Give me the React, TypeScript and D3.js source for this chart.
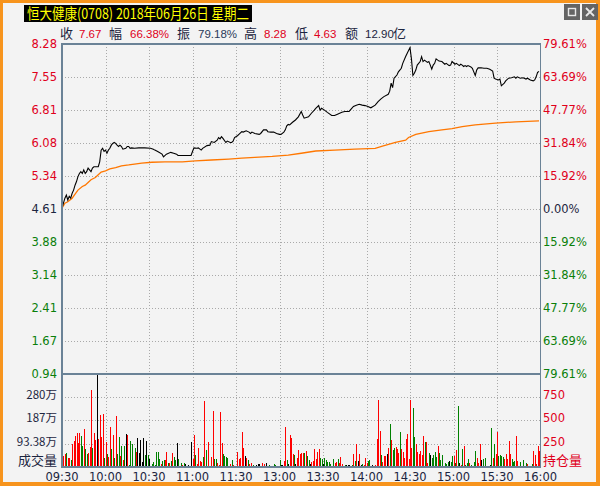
import * as d3 from "d3"

// price ticks (left) and change ticks (right)
const priceTicks = [8.28, 7.55, 6.81, 6.08, 5.34, 4.61, 3.88, 3.14, 2.41, 1.67, 0.94]
const pctTicks = ["79.61%", "63.69%", "47.77%", "31.84%", "15.92%", "0.00%", "15.92%", "31.84%", "47.77%", "63.69%", "79.61%"]
const preClose = 4.61

const timeLabels = ["09:30", "10:00", "10:30", "11:00", "11:30", "13:00", "13:30", "14:00", "14:30", "15:00", "15:30", "16:00"]

const volTicks = [93.38, 187, 280]
const volTickLabels = ["93.38万", "187万", "280万"]
const holdTickLabels = ["250", "500", "750"]

// minute-by-minute volume (万), morning 150 bars, afternoon 180 bars
const morningVol = [
  72, 44, 52, 58, 36, 36, 28, 92, 104, 125,
  137, 96, 137, 125, 84, 153, 72, 52, 56, 80,
  310, 76, 137, 108, 370, 112, 209, 120, 213, 36,
  100, 52, 40, 161, 72, 129, 36, 205, 52, 120,
  44, 84, 28, 84, 133, 129, 8, 104, 92, 4,
  76, 60, 117, 56, 108, 20, 117, 48, 104, 48,
  32, 4, 12, 20, 8, 60, 60, 32, 12, 24,
  28, 28, 60, 16, 16, 24, 56, 40, 28, 96,
  32, 4, 16, 8, 16, 12, 4, 8, 4, 100,
  32, 129, 48, 12, 76, 24, 20, 40, 265, 68,
  4, 100, 4, 40, 225, 32, 32, 16, 8, 221,
  96, 52, 44, 40, 36, 4, 12, 28, 8, 4,
  0, 60, 32, 36, 141, 76, 44, 36, 28, 12,
  16, 4, 8, 4, 8, 12, 12, 4, 16, 12,
  4, 16, 4, 8, 4, 4, 12, 8, 4, 4,
]
const morningDir =
  "rrrgrrgrrr" + "rrrggrggrr" + "rgrrkrrrrg" + "rgrrgrgrgg" + "rgrgkrgggk" +
  "grkkkkkgkg" + "krggggggrg" + "grrgrgrggk" + "gggrgkrkrk" + "rrgrrrrgrg" +
  "rrrrrggrrr" + "rggggkrgrr" + "rrrrrrkrgr" + "rrgkkkkgrr" + "rkggrkggrg"

const afternoonVol = [
  28, 8, 8, 24, 161, 28, 12, 129, 117, 52,
  48, 12, 36, 68, 52, 56, 56, 56, 64, 44,
  28, 12, 20, 24, 72, 32, 60, 72, 36, 32,
  12, 36, 28, 20, 20, 12, 4, 32, 16, 20,
  32, 16, 40, 12, 4, 8, 8, 8, 8, 4,
  8, 52, 24, 92, 24, 52, 8, 12, 8, 36,
  16, 24, 28, 4, 8, 4, 8, 112, 269, 145,
  48, 20, 44, 44, 52, 76, 173, 108, 68, 76,
  80, 72, 56, 141, 72, 60, 36, 112, 133, 32,
  269, 76, 237, 120, 92, 60, 52, 64, 48, 125,
  100, 100, 16, 56, 48, 36, 48, 60, 40, 84,
  56, 28, 48, 4, 16, 12, 20, 24, 20, 44,
  44, 16, 68, 245, 16, 8, 72, 84, 8, 16,
  32, 16, 8, 4, 20, 64, 36, 16, 92, 28,
  32, 4, 36, 4, 4, 8, 157, 36, 92, 52,
  141, 44, 48, 44, 40, 32, 52, 32, 104, 52,
  32, 20, 24, 125, 24, 4, 20, 4, 28, 4,
  16, 12, 4, 4, 12, 64, 48, 12, 84, 64,
]
const afternoonDir =
  "gkkrrgkrrr" + "gkrrrrrgrg" + "gkrrrrrrgg" + "kgggggkgrr" + "grrrrgkkkr" +
  "grgrkrkgrr" + "rggrkrrrrr" + "gr" +
  "rrkrgrggrr" + "rgrrrrrrrr" + "ggrrrrrrgr" + "rgkggggrgg" + "gggggkggrg" +
  "rgkrgrgggr" + "grggrrrkgr" + "gkrkgrgrrg" + "gggrrrrrgg" + "grrrgrgkgr" + "grgrrrrr"

// price line, sampled at minute index
const priceMinutes = [
  0, 1, 2, 3, 4, 5, 6, 7, 8, 9, 10, 11, 12, 13, 14, 15, 16, 17, 18, 19, 20, 21, 22, 24, 25,
  26, 27, 28, 29, 30, 31, 32, 33, 34, 35, 36, 37, 38, 39, 40, 41, 42, 44, 45, 46, 47, 48, 50,
  53, 55, 57, 61, 63, 64, 66, 69, 70, 72, 75, 77, 79, 80, 85, 89, 90, 91, 93, 94, 96, 97,
  100, 102, 103, 105, 107, 108, 109, 110, 111, 113, 114, 116, 117, 118, 119, 121, 122, 124,
  125, 127, 129, 130, 131, 133, 136, 137, 139, 141, 142, 144, 146, 148, 150, 151, 153, 154,
  155, 156, 157, 159, 161, 163, 165, 166, 167, 170, 172, 174, 175, 177, 178, 179, 181, 183,
  186, 188, 190, 193, 195, 198, 201, 203, 205, 207, 209, 211, 213, 216, 218, 220, 222, 225,
  226, 227, 228, 229, 231, 232, 234, 235, 237, 238, 240, 241, 242, 243, 244, 245, 247, 248,
  249, 250, 252, 253, 254, 255, 256, 257, 258, 260, 262, 264, 265, 267, 268, 269, 271, 272,
  274, 275, 276, 277, 278, 279, 280, 282, 283, 284, 285, 286, 287, 289, 291, 293, 295, 297,
  298, 299, 301, 302, 303, 305, 306, 308, 310, 312, 313, 314, 316, 318, 320, 321, 323, 325,
  326, 327, 328, 329,
]
const prices = [
  4.63, 4.74, 4.85, 4.92, 4.81, 4.89, 4.85, 4.96, 5.03, 5.14, 5.22, 5.33, 5.4, 5.44, 5.4, 5.48, 5.4, 5.44, 5.52, 5.48, 5.44, 5.52, 5.55, 5.55, 5.55,
  5.66, 5.92, 5.96, 5.89, 5.92, 5.85, 5.92, 5.96, 6.03, 6.07, 6.09, 6.07, 6.03, 6.0, 6.03, 6.0, 5.94, 5.96, 6.0, 6.0, 5.96, 5.97, 5.96,
  5.97, 5.97, 5.97, 5.96, 5.94, 5.92, 5.89, 5.83, 5.77, 5.83, 5.87, 5.85, 5.83, 5.8, 5.8, 5.8, 5.89, 5.97, 5.96, 5.97, 5.92, 5.96,
  6.02, 6.03, 6.11, 6.09, 6.14, 6.2, 6.17, 6.22, 6.18, 6.09, 6.12, 6.09, 6.09, 6.12, 6.2, 6.24, 6.27, 6.33,
  6.32, 6.35, 6.32, 6.29, 6.32, 6.29, 6.27, 6.29, 6.37, 6.37, 6.33, 6.32, 6.32, 6.29, 6.27, 6.27, 6.32, 6.37,
  6.46, 6.49, 6.48, 6.54, 6.59, 6.66, 6.78, 6.7, 6.63, 6.66, 6.74, 6.81, 6.85, 6.91, 6.81, 6.85, 6.81, 6.76,
  6.69, 6.69, 6.72, 6.76, 6.78, 6.78, 6.89, 6.92, 6.94, 6.92, 6.91, 6.89, 6.86, 6.92, 7.0, 7.06, 7.11, 7.16,
  7.23, 7.41, 7.31, 7.52, 7.59, 7.66, 7.74, 7.85, 8.0, 8.07, 8.2, 7.95, 7.58, 7.63, 7.7, 7.81, 7.89, 8.0,
  7.89, 7.92, 7.87, 7.89, 7.81, 7.72, 7.81, 7.85, 7.95, 7.9, 7.89, 7.83, 7.85, 7.8, 7.81, 7.89, 7.83, 7.85,
  7.8, 7.83, 7.81, 7.78, 7.8, 7.78, 7.8, 7.77, 7.74, 7.66, 7.58, 7.7, 7.75, 7.75, 7.74, 7.74, 7.72, 7.68,
  7.52, 7.5, 7.48, 7.5, 7.35, 7.41, 7.46, 7.52, 7.53, 7.55, 7.52, 7.55, 7.52, 7.53, 7.5, 7.52, 7.48, 7.46,
  7.48, 7.55, 7.65, 7.67,
]

// average price line
const avgMinutes = [0, 2, 4, 7, 9, 11, 14, 16, 18, 20, 23, 25, 27, 30, 33, 37, 41, 46, 50, 55, 62, 71, 83, 92, 103, 115, 124, 133, 145, 156, 165, 175, 188, 202, 216, 221, 230, 237, 239, 244, 253, 262, 269, 276, 285, 299, 313, 329]
const avgPrices = [4.63, 4.74, 4.77, 4.85, 4.94, 5.03, 5.11, 5.14, 5.2, 5.26, 5.31, 5.37, 5.43, 5.46, 5.5, 5.53, 5.57, 5.59, 5.61, 5.63, 5.65, 5.66, 5.66, 5.68, 5.7, 5.72, 5.74, 5.76, 5.78, 5.81, 5.85, 5.9, 5.92, 5.94, 5.96, 6.01, 6.09, 6.14, 6.2, 6.27, 6.33, 6.37, 6.4, 6.44, 6.48, 6.52, 6.55, 6.57]

const W = 600
const H = 486
const left = 62
const right = 540.5
const top = 44
const priceBottom = 374
const volBottom = 467

const RED = "#e0001b"
const GREEN = "#0a7f0a"
const DARK = "#1c2540"
const FRAME = "#6a8296"
const GRID = "#a9a9a9"
const FONT = "'DejaVu Sans', Verdana, sans-serif"
const NARROW = "'Liberation Sans', Arial, sans-serif"
const CJK = "'Noto Sans CJK SC', sans-serif"

export default function App() {
  const x = d3.scaleLinear().domain([0, 330]).range([left, right])
  const y = d3.scaleLinear().domain([0.94, 8.28]).range([priceBottom, top])
  const yVol = d3.scaleLinear().domain([0, 373.5]).range([volBottom, priceBottom])

  const volumes = morningVol.concat(afternoonVol)
  const dirs = (morningDir + afternoonDir).split("")
  const barColor = (c: string) => (c === "r" ? "#ff0000" : c === "g" ? "#008000" : "#000000")

  const pricePts = priceMinutes.map((m, i) => [m, prices[i]] as [number, number])
  const avgPts = avgMinutes.map((m, i) => [m, avgPrices[i]] as [number, number])
  const line = d3
    .line<[number, number]>()
    .x((d) => x(d[0]))
    .y((d) => y(d[1]))
    .curve(d3.curveLinear)

  const tickColor = (v: number) => (v > preClose ? RED : v < preClose ? GREEN : DARK)

  const info = [
    { t: "收", c: DARK, x: 60 },
    { t: "7.67", c: RED, x: 79 },
    { t: "幅", c: DARK, x: 109 },
    { t: "66.38%", c: RED, x: 130 },
    { t: "振", c: DARK, x: 177 },
    { t: "79.18%", c: "#2a3a5a", x: 198 },
    { t: "高", c: DARK, x: 244 },
    { t: "8.28", c: RED, x: 264 },
    { t: "低", c: DARK, x: 295 },
    { t: "4.63", c: RED, x: 314 },
    { t: "额", c: DARK, x: 345 },
    { t: "12.90", c: DARK, x: 365 },
    { t: "亿", c: DARK, x: 393 },
  ]
  const isCJK = (t: string) => /[\u4e00-\u9fff]/.test(t)

  return (
    <svg
      width={W}
      height={H}
      viewBox={`0 0 ${W} ${H}`}
      style={{ position: "absolute", left: 0, top: 0, display: "block" }}
    >
      <rect x={0} y={0} width={W} height={H} fill="#f7941d" />
      <rect x={3} y={3} width={W - 7} height={H - 7} fill="#f3f3f3" />

      {/* title */}
      <rect x={24} y={5} width={228} height={17} fill="#000" />
      <text x={27} y={19} fill="#ffff00" fontFamily={CJK} fontSize={15} textLength={222} lengthAdjust="spacingAndGlyphs">
        恒大健康(0708) 2018年06月26日 星期二
      </text>

      {/* window buttons */}
      <rect x={564} y={4} width={16} height={16} fill="#646464" />
      <rect x={568.5} y={8.5} width={7} height={7} fill="none" stroke="#e8e8e8" strokeWidth={1.4} />
      <rect x={582} y={4} width={16} height={16} fill="#646464" />
      <path d="M586,8 L594,16 M594,8 L586,16" stroke="#e8e8e8" strokeWidth={1.8} />

      {/* info row */}
      {info.map((d, i) => (
        <text
          key={i}
          x={d.x}
          y={38}
          fill={d.c}
          fontFamily={isCJK(d.t) ? CJK : NARROW}
          fontSize={isCJK(d.t) ? 13 : 11.5}
        >
          {d.t}
        </text>
      ))}

      {/* grid */}
      <g stroke={GRID} strokeWidth={1} strokeDasharray="1,2" shapeRendering="crispEdges">
        {priceTicks.slice(1, -1).map((v, i) => (
          <line key={"h" + i} x1={left} x2={right} y1={Math.round(y(v)) + 0.5} y2={Math.round(y(v)) + 0.5} />
        ))}
        {volTicks.map((v, i) => (
          <line key={"v" + i} x1={left} x2={right} y1={Math.round(yVol(v)) + 0.5} y2={Math.round(yVol(v)) + 0.5} />
        ))}
        {timeLabels.slice(1, -1).map((t, i) => (
          <line key={"t" + i} x1={Math.round(x((i + 1) * 30)) + 0.5} x2={Math.round(x((i + 1) * 30)) + 0.5} y1={top} y2={volBottom} />
        ))}
      </g>

      {/* volume bars */}
      <g shapeRendering="crispEdges">
        {volumes.map((v, i) =>
          v > 0 ? (
            <rect
              key={i}
              x={Math.round(x(i))}
              y={yVol(v)}
              width={1}
              height={volBottom - yVol(v)}
              fill={barColor(dirs[i])}
            />
          ) : null
        )}
      </g>

      {/* price and average lines */}
      <path d={line(avgPts) ?? ""} fill="none" stroke="#ff7700" strokeWidth={1.3} />
      <path d={line(pricePts) ?? ""} fill="none" stroke="#000" strokeWidth={1.1} />

      {/* frame */}
      <g fill="none" stroke={FRAME} strokeWidth={1.2} shapeRendering="crispEdges">
        <rect x={left} y={top} width={right - left} height={volBottom - top} />
        <line x1={left} x2={right} y1={priceBottom} y2={priceBottom} />
      </g>

      {/* left price labels */}
      <g fontFamily={FONT} fontSize={11.5}>
        {priceTicks.map((v, i) => (
          <text key={i} x={57} y={y(v)} dy="0.36em" textAnchor="end" fill={tickColor(v)}>
            {v.toFixed(2)}
          </text>
        ))}
        {pctTicks.map((t, i) => (
          <text key={i} x={543} y={y(priceTicks[i])} dy="0.36em" fill={tickColor(priceTicks[i])}>
            {t}
          </text>
        ))}
      </g>

      {/* volume labels */}
      <g>
        {volTicks.map((v, i) => (
          <text key={i} x={57} y={yVol(v) - 2} dy="0.34em" textAnchor="end" fill={DARK} fontFamily={CJK} fontSize={11.5}>
            {volTickLabels[i]}
          </text>
        ))}
        {holdTickLabels.map((t, i) => (
          <text key={i} x={543} y={yVol(volTicks[i]) - 2} dy="0.34em" fill={RED} fontFamily={FONT} fontSize={11.5}>
            {t}
          </text>
        ))}
        <text x={57} y={465} textAnchor="end" fill={DARK} fontFamily={CJK} fontSize={13}>
          成交量
        </text>
        <text x={543} y={465} fill={RED} fontFamily={CJK} fontSize={13}>
          持仓量
        </text>
      </g>

      {/* time labels */}
      <g fontFamily={FONT} fontSize={11.5} fill={DARK}>
        {timeLabels.map((t, i) => (
          <text key={i} x={x(i * 30)} y={477} dy="0.36em" textAnchor="middle">
            {t}
          </text>
        ))}
      </g>
    </svg>
  )
}
